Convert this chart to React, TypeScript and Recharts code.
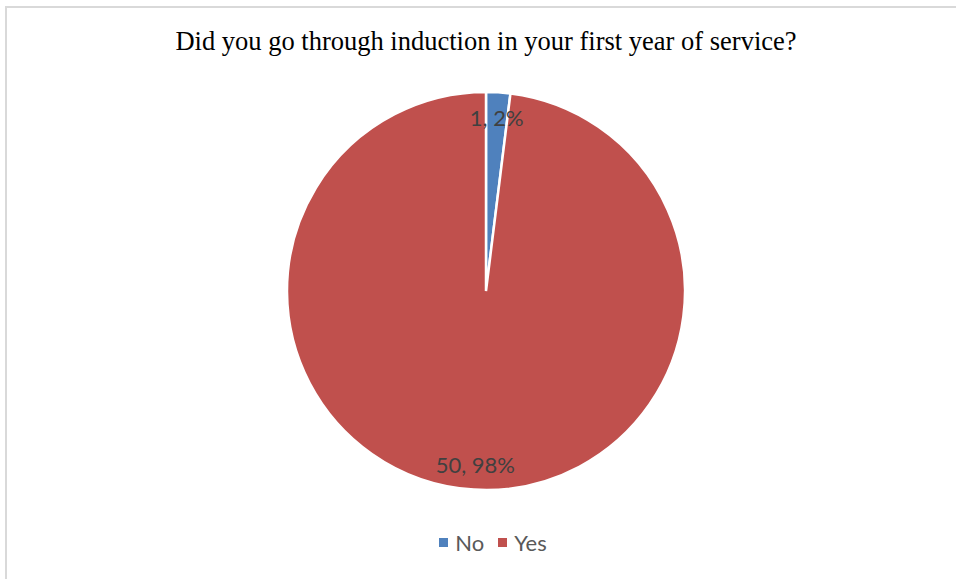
import React from 'react'
import { PieChart, Pie, Cell, Legend } from 'recharts'

const categories = ['No', 'Yes']
const counts = [1, 50]
const colors = ['#4f81bd', '#c0504d']

const data = categories.map((name, i) => ({ name, value: counts[i] }))
const total = counts.reduce((a, b) => a + b, 0)

const RADIAN = Math.PI / 180

function renderLabel(props: any) {
  const { cx, cy, midAngle, value } = props
  const r = 174
  const x = cx + r * Math.cos(-midAngle * RADIAN)
  const y = cy + r * Math.sin(-midAngle * RADIAN)
  const pct = Math.round((value / total) * 100)
  return (
    <text x={x} y={y} textAnchor="middle" dominantBaseline="central" fill="#404040"
      style={{ fontFamily: 'Lato, "Open Sans", sans-serif', fontSize: 22 }}>
      {`${value}, ${pct}%`}
    </text>
  )
}

function LegendContent() {
  return (
    <div style={{ display: 'flex', justifyContent: 'center', alignItems: 'center', fontFamily: 'Lato, "Open Sans", sans-serif', fontSize: 22, color: '#595959' }}>
      {categories.map((c, i) => (
        <span key={c} style={{ display: 'flex', alignItems: 'center', marginRight: i === 0 ? 14 : 0 }}>
          <span style={{ width: 9, height: 9, background: colors[i], display: 'inline-block', marginRight: 7 }} />
          {c}
        </span>
      ))}
    </div>
  )
}

export default function App() {
  return (
    <div style={{ position: 'absolute', left: 0, top: 0, width: 956, height: 579, background: '#fff', overflow: 'hidden' }}>
      <div style={{ position: 'absolute', left: 5, top: 6, width: 1000, height: 1000, border: '2px solid #d9d9d9', boxSizing: 'border-box' }} />
      <div style={{ position: 'absolute', left: 0, top: 26, width: 972, textAlign: 'center', fontFamily: '"Liberation Serif", "Times New Roman", serif', fontSize: 26.5, color: '#000' }}>
        Did you go through induction in your first year of service?
      </div>
      <div style={{ position: 'absolute', left: 0, top: 0 }}>
        <PieChart width={956} height={579} margin={{ top: 0, right: 0, bottom: 0, left: 0 }}>
          <Pie
            data={data}
            dataKey="value"
            nameKey="name"
            cx={486}
            cy={291}
            outerRadius={199}
            startAngle={90}
            endAngle={-270}
            stroke="#fff"
            strokeWidth={2.5}
            label={renderLabel}
            labelLine={false}
            isAnimationActive={false}
          >
            {data.map((d, i) => <Cell key={d.name} fill={colors[i]} />)}
          </Pie>
          <Legend content={<LegendContent />} verticalAlign="bottom"
            wrapperStyle={{ position: 'absolute', left: 0, width: 986, top: 529, bottom: 'auto' }} />
        </PieChart>
      </div>
    </div>
  )
}
